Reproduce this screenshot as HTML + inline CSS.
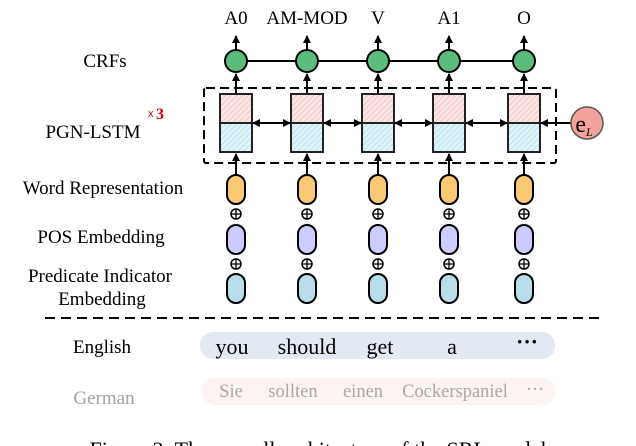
<!DOCTYPE html>
<html><head><style>
html,body{margin:0;padding:0;background:#fff;}
svg{display:block;font-family:"Liberation Serif",serif;}
</style></head><body>
<svg width="636" height="446" viewBox="0 0 636 446" xmlns="http://www.w3.org/2000/svg">
<defs>
<marker id="ah" markerWidth="8" markerHeight="8" refX="7" refY="4" orient="auto-start-reverse" markerUnits="userSpaceOnUse">
<path d="M0,0 L8,4 L0,8 z" fill="#000"/></marker>
<pattern id="hr" width="4" height="4" patternUnits="userSpaceOnUse" patternTransform="rotate(45)">
<rect width="4" height="4" fill="#fbe6e6"/><line x1="0" y1="0" x2="0" y2="4" stroke="#e9a6a6" stroke-width="1"/></pattern>
<pattern id="hb" width="4" height="4" patternUnits="userSpaceOnUse" patternTransform="rotate(45)">
<rect width="4" height="4" fill="#e0f3f8"/><line x1="0" y1="0" x2="0" y2="4" stroke="#93d3e3" stroke-width="1"/></pattern>
<g id="col">
<line x1="0" y1="50" x2="0" y2="36" stroke="#000" stroke-width="2" marker-end="url(#ah)"/>
<line x1="0" y1="94" x2="0" y2="74" stroke="#000" stroke-width="2" marker-end="url(#ah)"/>
<circle cx="0" cy="61" r="11" fill="#5bbd7b" stroke="#000" stroke-width="2"/>
<rect x="-16" y="94" width="32" height="29" fill="url(#hr)" stroke="#222" stroke-width="2"/>
<rect x="-16" y="123" width="32" height="29" fill="url(#hb)" stroke="#222" stroke-width="2"/>
<line x1="0" y1="176" x2="0" y2="154" stroke="#000" stroke-width="2" marker-end="url(#ah)"/>
<rect x="-9" y="175" width="18" height="29" rx="9" fill="#f9c873" stroke="#000" stroke-width="2"/>
<rect x="-9" y="225" width="18" height="29" rx="9" fill="#ccccff" stroke="#000" stroke-width="2"/>
<rect x="-9" y="274" width="18" height="29" rx="9" fill="#b7dde8" stroke="#000" stroke-width="2"/>
<circle cx="0" cy="214" r="5" fill="#fff" stroke="#000" stroke-width="1.5"/>
<line x1="-5" y1="214" x2="5" y2="214" stroke="#000" stroke-width="1.3"/><line x1="0" y1="209" x2="0" y2="219" stroke="#000" stroke-width="1.3"/>
<circle cx="0" cy="264" r="5" fill="#fff" stroke="#000" stroke-width="1.5"/>
<line x1="-5" y1="264" x2="5" y2="264" stroke="#000" stroke-width="1.3"/><line x1="0" y1="259" x2="0" y2="269" stroke="#000" stroke-width="1.3"/>
</g>
</defs>
<g font-size="19" text-anchor="middle" fill="#000">
<text x="236" y="24">A0</text><text x="307" y="24">AM-MOD</text><text x="378" y="24">V</text><text x="449" y="24">A1</text><text x="524" y="24">O</text>
<text x="105" y="67">CRFs</text>
<text x="93" y="138">PGN-LSTM</text>
<text x="103" y="194">Word Representation</text>
<text x="101" y="243">POS Embedding</text>
<text x="100" y="282">Predicate Indicator</text>
<text x="102" y="305">Embedding</text>
<text x="102" y="353">English</text>
<text x="104" y="404" fill="#a0a0a0">German</text>
</g>
<text x="148" y="117" font-size="11" fill="#c00" font-family="Liberation Sans,sans-serif">x</text>
<text x="156" y="119" font-size="16" font-weight="bold" fill="#c00">3</text>
<line x1="236" y1="61" x2="524" y2="61" stroke="#000" stroke-width="2"/>
<rect x="204" y="88" width="352" height="75" fill="none" stroke="#000" stroke-width="2" stroke-dasharray="9,5" rx="2"/>
<use href="#col" x="236"/><use href="#col" x="307"/><use href="#col" x="378"/><use href="#col" x="449"/><use href="#col" x="524"/>
<g stroke="#000" stroke-width="2">
<line x1="253" y1="123" x2="290" y2="123" marker-start="url(#ah)" marker-end="url(#ah)"/>
<line x1="324" y1="123" x2="361" y2="123" marker-start="url(#ah)" marker-end="url(#ah)"/>
<line x1="395" y1="123" x2="432" y2="123" marker-start="url(#ah)" marker-end="url(#ah)"/>
<line x1="466" y1="123" x2="507" y2="123" marker-start="url(#ah)" marker-end="url(#ah)"/>
<line x1="571" y1="123" x2="541" y2="123" marker-end="url(#ah)"/>
</g>
<circle cx="587" cy="123" r="16" fill="#f4a39a" stroke="#555" stroke-width="1.5"/>
<text x="584" y="132" font-size="24" text-anchor="middle">e<tspan font-size="12" font-style="italic" dy="4">L</tspan></text>
<line x1="45" y1="318" x2="604" y2="318" stroke="#000" stroke-width="2" stroke-dasharray="10,6"/>
<rect x="200" y="332" width="355" height="27" rx="13" fill="#e3e9f3"/>
<g font-size="22" text-anchor="middle">
<text x="232" y="354">you</text><text x="307" y="354">should</text><text x="380" y="354">get</text><text x="452" y="354">a</text><text x="527" y="349" font-weight="bold">···</text>
</g>
<rect x="202" y="378" width="353" height="27" rx="13" fill="#fdf3f3"/>
<g font-size="18.5" text-anchor="middle" fill="#a8a8a8">
<text x="231" y="397">Sie</text><text x="293" y="397">sollten</text><text x="363" y="397">einen</text><text x="455" y="397">Cockerspaniel</text><text x="535" y="395">···</text>
</g>
<text x="318" y="457" font-size="22" text-anchor="middle">Figure 3: The overall architecture of the SRL model</text>
</svg>
</body></html>
